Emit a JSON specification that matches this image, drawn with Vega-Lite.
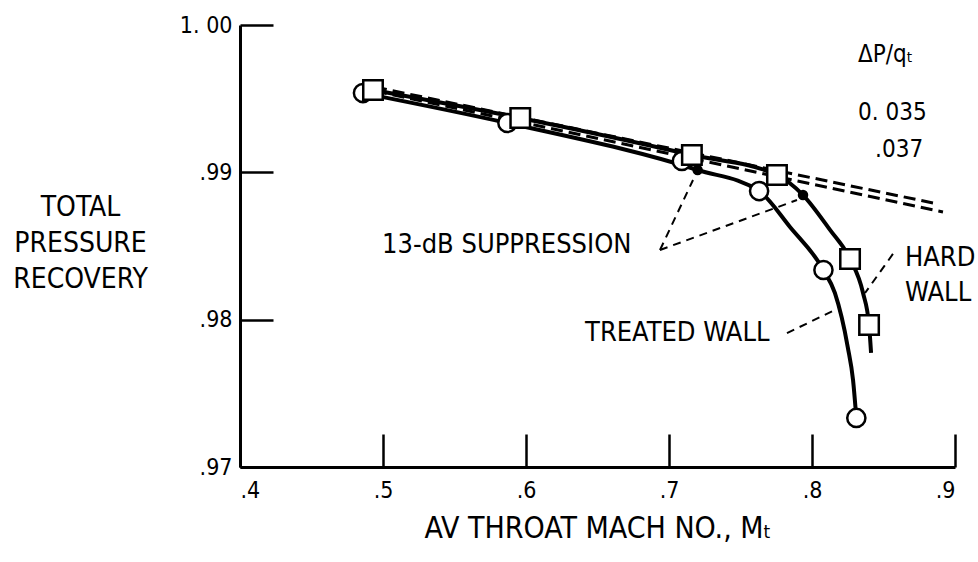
{
  "$schema": "https://vega.github.io/schema/vega-lite/v6.json",
  "width": 715,
  "height": 442,
  "autosize": {"type": "none"},
  "padding": {"left": 240, "top": 25, "right": 23, "bottom": 95},
  "background": "white",
  "config": {
    "view": {"stroke": null},
    "font": "DejaVu Sans Condensed, Liberation Sans Narrow, DejaVu Sans",
    "axis": {
      "grid": false,
      "domainColor": "black",
      "domainWidth": 3,
      "tickColor": "black",
      "tickWidth": 2.5,
      "tickSize": -33,
      "labelColor": "black",
      "labelFontSize": 23,
      "titleColor": "black",
      "titleFontWeight": "normal",
      "labelFont": "DejaVu Sans Condensed, Liberation Sans Narrow, DejaVu Sans",
      "titleFont": "DejaVu Sans Condensed, Liberation Sans Narrow, DejaVu Sans"
    }
  },
  "datasets": {
    "pts": [
      {"series": "d035", "M": 0.4944, "R": 0.99579, "mk": "none", "online": true},
      {"series": "d035", "M": 0.8846, "R": 0.98792, "mk": "none", "online": true},
      {"series": "d037", "M": 0.4944, "R": 0.99552, "mk": "none", "online": true},
      {"series": "d037", "M": 0.8916, "R": 0.98731, "mk": "none", "online": true},
      {"series": "treated", "M": 0.486, "R": 0.99538, "mk": "circle", "online": true},
      {"series": "treated", "M": 0.587, "R": 0.99335, "mk": "circle", "online": true},
      {"series": "treated", "M": 0.709, "R": 0.99077, "mk": "circle", "online": false},
      {"series": "treated", "M": 0.720, "R": 0.99016, "mk": "dot", "online": true},
      {"series": "treated", "M": 0.763, "R": 0.98873, "mk": "circle", "online": true},
      {"series": "treated", "M": 0.7846, "R": 0.98629, "mk": "none", "online": true},
      {"series": "treated", "M": 0.808, "R": 0.98337, "mk": "circle", "online": true},
      {"series": "treated", "M": 0.816, "R": 0.98181, "mk": "none", "online": true},
      {"series": "treated", "M": 0.825, "R": 0.97814, "mk": "none", "online": true},
      {"series": "treated", "M": 0.8287, "R": 0.97590, "mk": "none", "online": true},
      {"series": "treated", "M": 0.831, "R": 0.97333, "mk": "circle", "online": true},
      {"series": "hard", "M": 0.493, "R": 0.99559, "mk": "square", "online": true},
      {"series": "hard", "M": 0.596, "R": 0.99369, "mk": "square", "online": true},
      {"series": "hard", "M": 0.716, "R": 0.99118, "mk": "square", "online": true},
      {"series": "hard", "M": 0.7755, "R": 0.98982, "mk": "square", "online": true},
      {"series": "hard", "M": 0.7937, "R": 0.98846, "mk": "dot", "online": true},
      {"series": "hard", "M": 0.8126, "R": 0.98609, "mk": "none", "online": true},
      {"series": "hard", "M": 0.8266, "R": 0.98412, "mk": "square", "online": true},
      {"series": "hard", "M": 0.8357, "R": 0.98181, "mk": "none", "online": true},
      {"series": "hard", "M": 0.8399, "R": 0.97964, "mk": "square", "online": true},
      {"series": "hard", "M": 0.8413, "R": 0.97774, "mk": "none", "online": true}
    ],
    "leaders": [
      {"x": 0.6937, "y": 0.98473, "x2": 0.7168, "y2": 0.98948},
      {"x": 0.6937, "y": 0.98473, "x2": 0.7895, "y2": 0.98812},
      {"x": 0.7825, "y": 0.97909, "x2": 0.8161, "y2": 0.98066},
      {"x": 0.8566, "y": 0.98446, "x2": 0.8371, "y2": 0.98181}
    ],
    "keylabels": [
      {"x": 0.8322, "y": 0.99796, "t": "ΔP/qₜ"},
      {"x": 0.8322, "y": 0.99403, "t": "0. 035"},
      {"x": 0.8441, "y": 0.99152, "t": ".037"}
    ],
    "labels": [
      {"x": 0.4993, "y": 0.98507, "t": "13-dB SUPPRESSION"},
      {"x": 0.6413, "y": 0.97909, "t": "TREATED WALL"},
      {"x": 0.8650, "y": 0.98419, "t": "HARD"},
      {"x": 0.8650, "y": 0.98181, "t": "WALL"}
    ]
  },
  "layer": [
    {
      "data": {"name": "pts"},
      "transform": [{"filter": "datum.series == 'd035' || datum.series == 'd037'"}],
      "mark": {"type": "line", "color": "black", "strokeWidth": 3, "strokeDash": [12, 6], "clip": false},
      "encoding": {
        "x": {"field": "M", "type": "quantitative", "scale": {"domain": [0.4, 0.9], "nice": false, "zero": false},
          "axis": {"values": [0.4, 0.5, 0.6, 0.7, 0.8, 0.9], "labelExpr": "replace(format(datum.value, '.1f'), '0.', '.')", "labelPadding": 45, "title": "AV THROAT MACH NO., Mₜ", "titleFontSize": 30, "titleY": 61, "titleBaseline": "middle"}},
        "y": {"field": "R", "type": "quantitative", "scale": {"domain": [0.97, 1.0], "nice": false, "zero": false},
          "axis": {"values": [0.97, 0.98, 0.99, 1.0], "labelExpr": "datum.value >= 0.999 ? '1. 00' : replace(format(datum.value, '.2f'), '0.', '.')", "labelPadding": 41, "labelBaseline": "middle", "title": ["TOTAL", "PRESSURE", "RECOVERY"], "titleAngle": 0, "titleAlign": "center", "titleBaseline": "middle", "titleX": -160, "titleY": 182, "titleFontSize": 28, "titleLineHeight": 36}},
        "detail": {"field": "series"}
      }
    },
    {
      "data": {"name": "pts"},
      "transform": [{"filter": "(datum.series == 'treated' || datum.series == 'hard') && datum.online"}],
      "mark": {"type": "line", "color": "black", "strokeWidth": 4, "interpolate": "monotone"},
      "encoding": {
        "x": {"field": "M", "type": "quantitative"},
        "y": {"field": "R", "type": "quantitative"},
        "detail": {"field": "series"},
        "order": {"field": "M"}
      }
    },
    {
      "data": {"name": "pts"},
      "transform": [{"filter": "datum.mk == 'dot'"}],
      "mark": {"type": "point", "shape": "circle", "filled": true, "color": "black", "size": 110, "opacity": 1},
      "encoding": {
        "x": {"field": "M", "type": "quantitative"},
        "y": {"field": "R", "type": "quantitative"}
      }
    },
    {
      "data": {"name": "pts"},
      "transform": [{"filter": "datum.mk == 'circle'"}],
      "mark": {"type": "point", "shape": "circle", "filled": true, "fill": "white", "stroke": "black", "strokeWidth": 2.5, "size": 330, "opacity": 1},
      "encoding": {
        "x": {"field": "M", "type": "quantitative"},
        "y": {"field": "R", "type": "quantitative"}
      }
    },
    {
      "data": {"name": "pts"},
      "transform": [{"filter": "datum.mk == 'square'"}],
      "mark": {"type": "point", "shape": "square", "filled": true, "fill": "white", "stroke": "black", "strokeWidth": 2.5, "size": 380, "opacity": 1},
      "encoding": {
        "x": {"field": "M", "type": "quantitative"},
        "y": {"field": "R", "type": "quantitative"}
      }
    },
    {
      "data": {"name": "leaders"},
      "mark": {"type": "rule", "color": "black", "strokeWidth": 2, "strokeDash": [8, 6]},
      "encoding": {
        "x": {"field": "x", "type": "quantitative"},
        "y": {"field": "y", "type": "quantitative"},
        "x2": {"field": "x2"},
        "y2": {"field": "y2"}
      }
    },
    {
      "data": {"name": "keylabels"},
      "mark": {"type": "text", "align": "left", "baseline": "middle", "fontSize": 24, "color": "black"},
      "encoding": {
        "x": {"field": "x", "type": "quantitative"},
        "y": {"field": "y", "type": "quantitative"},
        "text": {"field": "t"}
      }
    },
    {
      "data": {"name": "labels"},
      "mark": {"type": "text", "align": "left", "baseline": "middle", "fontSize": 27, "color": "black"},
      "encoding": {
        "x": {"field": "x", "type": "quantitative"},
        "y": {"field": "y", "type": "quantitative"},
        "text": {"field": "t"}
      }
    }
  ]
}
